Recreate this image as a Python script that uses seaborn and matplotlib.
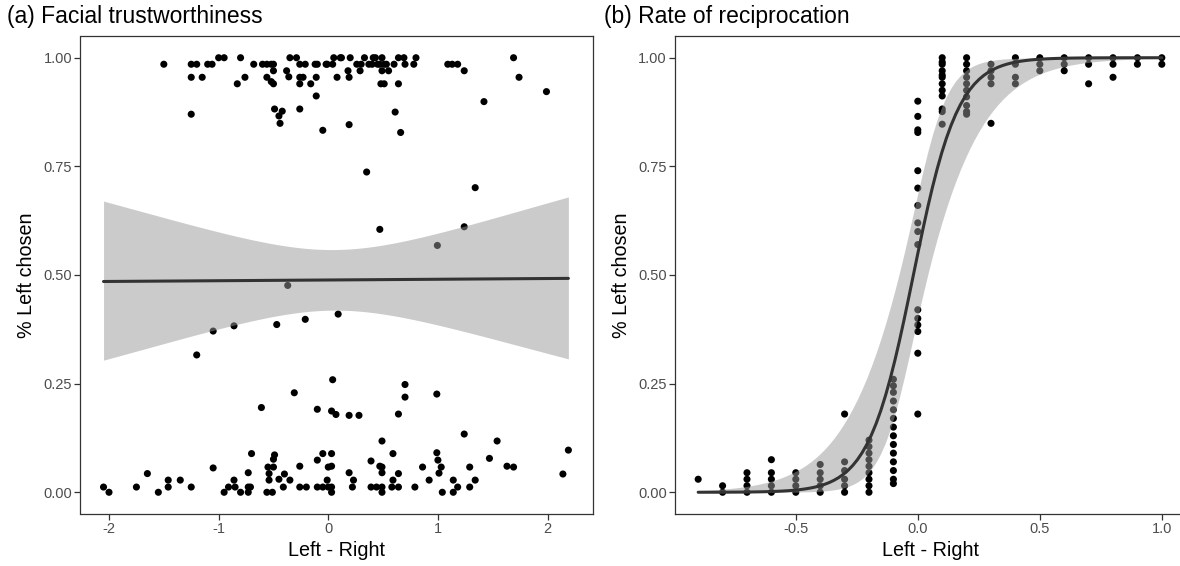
import numpy as np
import pandas as pd
import matplotlib
matplotlib.use("Agg")
import matplotlib.pyplot as plt
import seaborn as sns

# ---------------- data ----------------
# Panel (a): facial trustworthiness difference vs proportion left chosen
a_x = [-1.50, -1.25, -1.20, -1.10, -1.06, -1.00, -0.95, -0.80, -1.25, -1.15,
       -1.25, -0.83, -0.76, -0.68, -0.60, -0.56, -0.50, -0.50, -0.56, -0.52,
       -0.50, -0.49, -0.42, -0.45, -0.44, -0.38, -0.36, -0.35, -0.29, -0.26,
       -0.21, -0.26, -0.23, -0.26, -0.16, -0.11, -0.12, -0.10, -0.11, -0.26,
       -0.05, -0.01, 0.04, 0.05, 0.11, 0.08, 0.18, 0.19, 0.26, 0.29,
       0.37, 0.41, 0.45, 0.49, 0.51, 0.47, 0.49, 0.55, 0.48, 0.51,
       0.64, 0.69, 0.80, 0.70, 0.78, 0.64, 1.09, 1.13, 1.18, 1.24,
       1.69, 1.74, 1.99, 1.42, 0.61, 0.19, 0.66,
       0.12, 0.20, 0.30, 0.33, 0.40, 0.43, 0.53, 0.60, -0.52, -0.02,
       0.35, 1.34, 0.47, 0.995, 1.24, -0.37, -1.20, -1.05, -0.86, -0.47,
       -0.21, 0.09, -0.31, 0.04, 0.70, 0.70, 0.99,
       -0.61, -0.10, 0.03, 0.07, 0.19, 0.28, 0.64, 0.49, 1.24, 1.54,
       2.19, 2.14,
       -2.05, -2.00, -1.75, -1.65, -1.55, -1.46, -1.46, -1.35, -1.25, -1.05,
       -0.95, -0.91, -0.86, -0.85, -0.80, -0.73, -0.73, -0.71, -0.73, -0.70,
       -0.56, -0.51, -0.55, -0.50, -0.54, -0.54, -0.50, -0.49, -0.45, -0.41,
       -0.40, -0.35, -0.26, -0.26, -0.20, -0.10, -0.05, -0.10, -0.05, 0.00,
       0.03, -0.01, 0.00, 0.03, 0.03, 0.03, 0.19, 0.23, 0.22, 0.39,
       0.47, 0.49, 0.49, 0.39, 0.44, 0.49, 0.49, 0.59, 0.59, 0.58,
       0.64, 0.64, 0.79, 0.86, 0.92, 0.99, 1.00, 1.03, 1.01, 1.04,
       1.14, 1.18, 1.14, 1.29, 1.29, 1.34, 1.47, 1.63, 1.69]
a_y = [0.985, 0.985, 0.985, 0.985, 0.985, 1.000, 1.000, 1.000, 0.955, 0.955,
       0.870, 0.940, 0.955, 0.985, 0.985, 0.985, 0.985, 0.970, 0.955, 0.945,
       0.940, 0.882, 0.877, 0.866, 0.849, 0.970, 0.956, 1.000, 1.000, 0.985,
       0.985, 0.955, 0.955, 0.940, 0.940, 0.955, 0.985, 0.985, 0.912, 0.882,
       0.833, 0.985, 0.985, 1.000, 1.000, 0.955, 0.970, 0.955, 0.985, 0.970,
       0.985, 1.000, 0.985, 1.000, 0.985, 0.985, 0.970, 0.970, 0.940, 0.940,
       1.000, 1.000, 1.000, 0.985, 0.985, 0.940, 0.985, 0.985, 0.985, 0.970,
       1.000, 0.955, 0.922, 0.899, 0.875, 0.846, 0.828,
       1.000, 1.000, 0.985, 1.000, 0.985, 1.000, 0.985, 0.985, 0.985, 0.985,
       0.737, 0.701, 0.605, 0.568, 0.611, 0.476, 0.316, 0.371, 0.383, 0.386,
       0.398, 0.410, 0.229, 0.259, 0.248, 0.219, 0.226,
       0.195, 0.191, 0.187, 0.179, 0.177, 0.177, 0.180, 0.118, 0.134, 0.118,
       0.097, 0.042,
       0.012, 0.000, 0.012, 0.043, 0.000, 0.028, 0.012, 0.028, 0.012, 0.056,
       0.000, 0.012, 0.028, 0.012, 0.000, 0.045, 0.012, 0.012, 0.000, 0.089,
       0.000, 0.000, 0.058, 0.058, 0.043, 0.028, 0.076, 0.086, 0.030, 0.012,
       0.042, 0.028, 0.060, 0.012, 0.012, 0.074, 0.089, 0.012, 0.012, 0.012,
       0.012, 0.028, 0.058, 0.060, 0.089, 0.000, 0.045, 0.028, 0.012, 0.072,
       0.060, 0.058, 0.045, 0.012, 0.012, 0.012, 0.000, 0.089, 0.028, 0.012,
       0.012, 0.043, 0.012, 0.058, 0.028, 0.091, 0.074, 0.058, 0.044, 0.000,
       0.028, 0.012, 0.000, 0.058, 0.012, 0.028, 0.078, 0.060, 0.058]

# Panel (b): reciprocation-rate difference (discrete levels) vs proportion left chosen
b_levels = [-0.9, -0.8, -0.7, -0.6, -0.5, -0.4, -0.3, -0.2, -0.1, 0.0,
            0.1, 0.2, 0.3, 0.4, 0.5, 0.6, 0.7, 0.8, 0.9, 1.0]
b_values = [
    [0.03],
    [0.0, 0.015],
    [0.0, 0.015, 0.03, 0.045],
    [0.0, 0.015, 0.03, 0.045, 0.075],
    [0.0, 0.015, 0.03, 0.045],
    [0.0, 0.015, 0.03, 0.045, 0.064],
    [0.0, 0.015, 0.03, 0.05, 0.07, 0.18],
    [0.0, 0.015, 0.03, 0.045, 0.06, 0.075, 0.09, 0.105, 0.12],
    [0.02, 0.03, 0.05, 0.07, 0.09, 0.11, 0.13, 0.15, 0.17, 0.19, 0.21, 0.23, 0.245, 0.26],
    [0.18, 0.32, 0.37, 0.385, 0.40, 0.42, 0.57, 0.60, 0.62, 0.66, 0.70, 0.74, 0.828, 0.834, 0.865, 0.90],
    [0.847, 0.876, 0.882, 0.912, 0.94, 0.955, 0.97, 0.985, 1.0, 0.925, 0.96, 0.99],
    [0.87, 0.876, 0.89, 0.925, 0.94, 0.955, 0.97, 0.985, 1.0, 0.91],
    [0.849, 0.94, 0.955, 0.97, 0.985],
    [0.94, 0.955, 0.985, 1.0],
    [0.97, 0.985, 1.0],
    [0.97, 0.985, 1.0],
    [0.94, 0.985, 1.0],
    [0.955, 0.985, 1.0],
    [0.985, 1.0],
    [0.985, 1.0],
]

x_ticks_a = [-2, -1, 0, 1, 2]
x_tick_labels_a = ["-2", "-1", "0", "1", "2"]
x_ticks_b = [-0.5, 0.0, 0.5, 1.0]
x_tick_labels_b = ["-0.5", "0.0", "0.5", "1.0"]
y_ticks = [0.0, 0.25, 0.5, 0.75, 1.0]
y_tick_labels = ["0.00", "0.25", "0.50", "0.75", "1.00"]
titles = ["(a) Facial trustworthiness", "(b) Rate of reciprocation"]
x_label = "Left - Right"
y_label = "% Left chosen"

df_a = pd.DataFrame({"x": a_x, "y": a_y})
bx, by = [], []
for lv, vals in zip(b_levels, b_values):
    bx += [lv] * len(vals)
    by += vals
df_b = pd.DataFrame({"x": bx, "y": by})


# ---------------- binomial GLM fit (like geom_smooth(method="glm", binomial)) ----------------
def logistic_fit(x, y, n=100):
    x = np.asarray(x, float)
    y = np.asarray(y, float)
    X = np.column_stack([np.ones_like(x), x])
    beta = np.zeros(2)
    for _ in range(100):
        eta = X @ beta
        mu = 1 / (1 + np.exp(-eta))
        w = np.clip(mu * (1 - mu), 1e-10, None)
        z = eta + (y - mu) / w
        new = np.linalg.solve(X.T @ (w[:, None] * X), X.T @ (w * z))
        if np.max(np.abs(new - beta)) < 1e-10:
            beta = new
            break
        beta = new
    eta = X @ beta
    mu = 1 / (1 + np.exp(-eta))
    w = mu * (1 - mu)
    cov = np.linalg.inv(X.T @ (w[:, None] * X))
    g = np.linspace(x.min(), x.max(), n)
    G = np.column_stack([np.ones_like(g), g])
    eg = G @ beta
    se = np.sqrt(np.einsum("ij,jk,ik->i", G, cov, G))
    inv = lambda t: 1 / (1 + np.exp(-t))
    return pd.DataFrame({"x": g, "fit": inv(eg),
                         "lo": inv(eg - 1.96 * se), "hi": inv(eg + 1.96 * se)})


# ---------------- style ----------------
sns.set_theme(style="white")
plt.rcParams["font.family"] = ["Liberation Sans", "DejaVu Sans"]
plt.rcParams["axes.unicode_minus"] = False

W, H = 1180, 566
fig = plt.figure(figsize=(W / 100, H / 100), dpi=100)

panels = [
    dict(df=df_a, left=80.5, right=592.5, xlim=(-2.26, 2.41),
         xt=x_ticks_a, xtl=x_tick_labels_a, title_x=7),
    dict(df=df_b, left=675, right=1185, xlim=(-0.995, 1.095),
         xt=x_ticks_b, xtl=x_tick_labels_b, title_x=604),
]
top_px, bot_px = 36, 514

for p, title in zip(panels, titles):
    ax = fig.add_axes([p["left"] / W, 1 - bot_px / H,
                       (p["right"] - p["left"]) / W, (bot_px - top_px) / H])
    d = p["df"]
    sns.scatterplot(data=d, x="x", y="y", ax=ax, color="black", s=26,
                    linewidth=0, edgecolor="none", zorder=2, legend=False)
    fit = logistic_fit(d["x"], d["y"])
    ax.fill_between(fit["x"], fit["lo"], fit["hi"], color="#999999",
                    alpha=0.5, linewidth=0, zorder=3)
    sns.lineplot(data=fit, x="x", y="fit", ax=ax, color="#333333",
                 linewidth=2.2, zorder=4)
    ax.set_xlim(*p["xlim"])
    ax.set_ylim(-0.05, 1.05)
    ax.set_xticks(p["xt"])
    ax.set_xticklabels(p["xtl"])
    ax.set_yticks(y_ticks)
    ax.set_yticklabels(y_tick_labels)
    ax.tick_params(axis="both", which="major", length=4, width=0.9,
                   color="#333333", labelcolor="#4D4D4D", labelsize=10.5,
                   direction="out", pad=2, bottom=True, left=True)
    for sp in ax.spines.values():
        sp.set_visible(True)
        sp.set_color("#333333")
        sp.set_linewidth(0.9)
    ax.grid(False)
    ax.set_xlabel(x_label, fontsize=14.2, color="black", labelpad=3)
    ax.set_ylabel(y_label, fontsize=14.2, color="black", labelpad=5)
    fig.text(p["title_x"] / W, 1 - 17 / H, title, fontsize=16.5,
             ha="left", va="center", color="black")

fig.savefig("out.png", dpi=100, facecolor="white")
